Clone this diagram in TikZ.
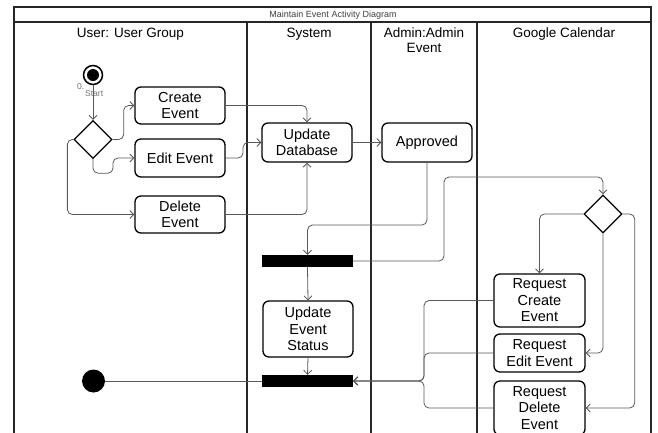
\documentclass[tikz,border=0pt]{standalone}
\usepackage{fontspec}
\setmainfont{Liberation Sans}
\usetikzlibrary{shapes.geometric,arrows.meta}
\begin{document}
\begin{tikzpicture}[x=1pt,y=-1pt,
 act/.style={draw, fill=white, line width=1.3pt, rounded corners=6pt, align=center, inner sep=0pt, minimum width=90pt, font=\fontsize{14.5}{16.5}\selectfont},
 dec/.style={draw, fill=white, diamond, line width=1.3pt, minimum width=38pt, minimum height=38pt, inner sep=0pt},
 bar/.style={fill=black, minimum width=91pt, minimum height=12pt, inner sep=0pt},
 conn/.style={draw=black!65, line width=0.8pt, rounded corners=5pt},
 arr/.style={conn, -{Straight Barb[length=4pt,width=8pt]}},
 lane/.style={line width=1.5pt, draw=black!85},
 hdr/.style={font=\fontsize{13.5}{15}\selectfont, align=center, anchor=north, inner sep=0pt}
]
\useasboundingbox (0,0) rectangle (658,432);
\clip (0,0) rectangle (658,432);
% frame and lanes
\draw[lane] (14,7) rectangle (651,445);
\draw[lane] (14,22) -- (651,22);
\draw[lane] (247,22) -- (247,445);
\draw[lane] (371,22) -- (371,445);
\draw[lane] (477,22) -- (477,445);
\node[font=\fontsize{9}{10}\selectfont, text=black!75] (title) at (333,15) {Maintain Event Activity Diagram};
\node[hdr] (h1) at (130.5,28) {User: User Group};
\node[hdr] (h2) at (309,28) {System};
\node[hdr] (h3) at (424,28) {Admin:Admin\\Event};
\node[hdr] (h4) at (564,28) {Google Calendar};
% start
\node[font=\fontsize{8.5}{7}\selectfont, text=black!55, align=left, anchor=north west, inner sep=0pt] (sl) at (77,83) {0.\\\hspace*{8pt}Start};
\node[circle, draw, fill=white, line width=1.5pt, minimum size=19pt, inner sep=0pt] (st) at (93,75) {};
\node[circle, fill=black, minimum size=12pt, inner sep=0pt] (sti) at (93,75) {};
% nodes
\node[dec] (d1) at (93,139.5) {};
\node[act, minimum height=37pt] (ce) at (180,105.5) {Create\\Event};
\node[act, minimum height=38pt] (ee) at (180,158) {Edit Event};
\node[act, minimum height=37pt] (de) at (180,214.5) {Delete\\Event};
\node[act, minimum height=39pt] (ud) at (307,142.5) {Update\\Database};
\node[act, minimum height=39pt] (ap) at (427,142.5) {Approved};
\node[bar] (b1) at (307.5,261) {};
\node[act, minimum height=56pt] (us) at (308,329) {Update\\Event\\Status};
\node[bar] (b2) at (307.5,381) {};
\node[dec] (d2) at (603,214) {};
\node[act, minimum width=91pt, minimum height=53pt] (rc) at (539.5,300.5) {Request\\Create\\Event};
\node[act, minimum width=91pt, minimum height=38pt] (re) at (539.5,353) {Request\\Edit Event};
\node[act, minimum width=91pt, minimum height=54pt] (rd) at (539.5,408) {Request\\Delete\\Event};
\node[circle, fill=black, minimum size=23pt, inner sep=0pt] (fin) at (93.5,381) {};
% connectors
\draw[arr] (st.south) -- (d1.north);
\draw[arr] (d1.east) -- ++(11,0) |- (ce.west);
\draw[arr] (d1.south) -- ++(0,14) -| (113,158) -- (ee.west);
\draw[arr] (d1.west) -- ++(-6,0) |- (de.west);
\draw[arr] (ce.east) -| (ud.north);
\draw[arr] (ee.east) -- (243,158) |- (ud.west);
\draw[arr] (de.east) -| (ud.south);
\draw[arr] (ud) -- (ap);
\draw[arr] (ap.south) -- (427,225) -| (b1.north);
\draw[arr] (b1.east) -- (444,261) |- (603,177) -- (d2.north);
\draw[arr] (d2.west) -| (rc.north);
\draw[arr] (d2.south) |- (re.east);
\draw[arr] (d2.east) -- ++(12,0) |- (rd.east);
\draw[arr] (rc.west) -- (424,300.5) |- (b2.east);
\draw[arr] (re.west) -- (424,353) |- (b2.east);
\draw[arr] (rd.west) -- (424,408) |- (b2.east);
\draw[arr] (b1.south) -- (us.north);
\draw[arr] (us.south) -- (b2.north);
\draw[conn] (b2.west) -- (fin.east);
\end{tikzpicture}
\end{document}
